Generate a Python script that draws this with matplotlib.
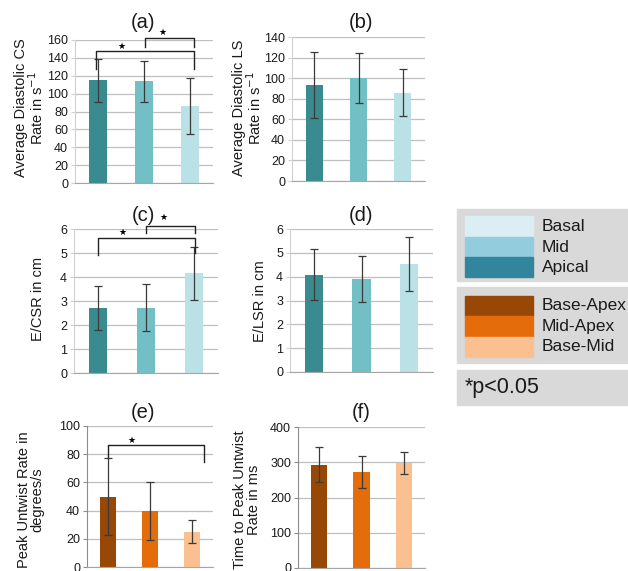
import matplotlib
matplotlib.use("Agg")
import matplotlib.pyplot as plt
from matplotlib.patches import Rectangle
import numpy as np

plt.rcParams['font.family'] = ['Liberation Sans', 'DejaVu Sans']

W, H = 628, 571

# Categories and colours
regions = ["Apical", "Mid", "Basal"]
region_colors = ["#3a8b8f", "#72c0c5", "#b9e1e6"]
region_legend_colors = ["#31859c", "#93cddd", "#dbeef4"]
twist_pairs = ["Base-Apex", "Mid-Apex", "Base-Mid"]
twist_colors = ["#974807", "#e46c0a", "#fac090"]

# Means and standard deviations per panel
cs_rate = [115, 114, 86]
cs_rate_err = [24, 23, 31]
ls_rate = [93, 100, 86]
ls_rate_err = [32, 24.5, 23]
e_csr = [2.72, 2.72, 4.16]
e_csr_err = [0.91, 0.99, 1.10]
e_lsr = [4.08, 3.91, 4.52]
e_lsr_err = [1.06, 0.97, 1.13]
untwist_rate = [50, 40, 25]
untwist_rate_err = [27, 20.5, 8]
untwist_time = [293, 273, 298]
untwist_time_err = [49, 46, 30]

fig = plt.figure(figsize=(W / 100, H / 100), dpi=100)


def px_axes(x1, y1, x2, y2):
    return fig.add_axes([x1 / W, 1 - y2 / H, (x2 - x1) / W, (y2 - y1) / H])


def panel(rect, values, errs, colors, ymax, ystep, left_spine='#d0d0d0'):
    ax = px_axes(*rect)
    x = np.arange(len(values))
    ax.bar(x, values, width=0.38, color=colors, zorder=2)
    ax.errorbar(x, values, yerr=errs, fmt='none', ecolor='#3a3a3a',
                elinewidth=0.9, capsize=3, capthick=0.9, zorder=3)
    ax.set_xlim(-0.5, 2.5)
    ax.set_ylim(0, ymax)
    ax.set_yticks(np.arange(0, ymax + ystep / 2, ystep))
    ax.set_xticks([])
    ax.yaxis.grid(True, color='#bfbfbf', lw=0.9)
    ax.set_axisbelow(True)
    for s in ['top', 'right']:
        ax.spines[s].set_visible(False)
    ax.spines['left'].set_color(left_spine)
    ax.spines['bottom'].set_color('#a6a6a6')
    ax.tick_params(axis='y', length=3, width=0.8, color=left_spine, pad=2,
                   labelsize=9, labelcolor='#1a1a1a')
    return ax


def brackets(ax, spans, stars):
    for xl, xr, ytop, yl, yr in spans:
        ax.plot([xl, xl, xr, xr], [yl, ytop, ytop, yr], color='#222222',
                lw=1.0, clip_on=False, zorder=4)
    for sx, sy in stars:
        ax.text(sx, sy, '\u2605', ha='center', va='center', fontsize=6.5,
                family='DejaVu Sans', clip_on=False)


def ylabel(x, y, text):
    fig.text(x / W, 1 - y / H, text, rotation=90, ha='center', va='center',
             multialignment='center', fontsize=10.5, linespacing=0.92,
             color='#1a1a1a')


def title(x, y, text):
    fig.text(x / W, 1 - y / H, text, ha='center', va='center', fontsize=14.5,
             color='#1a1a1a')


# (a) circumferential strain rate
ax_a = panel((75, 40, 213, 183), cs_rate, cs_rate_err, region_colors, 160, 20)
brackets(ax_a, [(-0.05, 2.09, 148, 127, 127), (1.03, 2.09, 162, 152, 152)],
         [(0.51, 153), (1.40, 169)])
ylabel(30, 108, "Average Diastolic CS\nRate in s$^{-1}$")
title(143, 23, "(a)")

# (b) longitudinal strain rate
ax_b = panel((292, 37, 425, 181), ls_rate, ls_rate_err, region_colors, 140, 20)
ylabel(248, 108, "Average Diastolic LS\nRate in s$^{-1}$")
title(361, 22, "(b)")

# (c) E / circumferential strain rate
ax_c = panel((74, 229, 218, 373), e_csr, e_csr_err, region_colors, 6, 1)
brackets(ax_c, [(0.0, 2.03, 5.61, 4.91, 5.0), (1.01, 2.03, 6.14, 5.82, 5.82)],
         [(0.52, 5.84), (1.37, 6.5)])
ylabel(38, 299, "E/CSR in cm")
title(143, 215, "(c)")

# (d) E / longitudinal strain rate
ax_d = panel((290, 229, 433, 372), e_lsr, e_lsr_err, region_colors, 6, 1)
ylabel(260, 301, "E/LSR in cm")
title(361, 215, "(d)")

# (e) peak untwist rate
ax_e = panel((87, 426, 213, 567), untwist_rate, untwist_rate_err, twist_colors,
             100, 20, left_spine='#8c8c8c')
brackets(ax_e, [(0.0, 2.29, 86.8, 78, 74.5)], [(0.57, 90)])
ylabel(31, 500, "Peak Untwist Rate in\ndegrees/s")
title(143, 413, "(e)")

# (f) time to peak untwist rate
ax_f = panel((298, 427, 425, 568), untwist_time, untwist_time_err, twist_colors,
             400, 100, left_spine='#8c8c8c')
ylabel(247, 500, "Time to Peak Untwist\nRate in ms")
title(361, 412, "(f)")

# Shared legend boxes
lg = fig.add_axes([0, 0, 1, 1])
lg.set_xlim(0, W)
lg.set_ylim(H, 0)
lg.axis('off')
lg.patch.set_alpha(0)

lg.add_patch(Rectangle((457, 209), 175, 72, color='#d9d9d9'))
region_rows = [(215.7, 21), (236.7, 20.6), (257.3, 20)]
for (y0, h), name, col in zip(region_rows, regions[::-1], region_legend_colors[::-1]):
    lg.add_patch(Rectangle((465, y0), 68, h, color=col))
    lg.text(542, y0 + h / 2, name, va='center', ha='left', fontsize=12.5,
            color='#1a1a1a')

lg.add_patch(Rectangle((457, 287), 175, 76, color='#d9d9d9'))
twist_rows = [(295.7, 20), (315.7, 21), (336.7, 20)]
for (y0, h), name, col in zip(twist_rows, twist_pairs, twist_colors):
    lg.add_patch(Rectangle((465, y0), 68, h, color=col))
    lg.text(542, y0 + h / 2, name, va='center', ha='left', fontsize=12.5,
            color='#1a1a1a')

lg.add_patch(Rectangle((457, 370), 175, 35, color='#d9d9d9'))
lg.text(465, 387, "*p<0.05", va='center', ha='left', fontsize=15.5,
        color='#1a1a1a')

fig.savefig("out.png", dpi=100)
